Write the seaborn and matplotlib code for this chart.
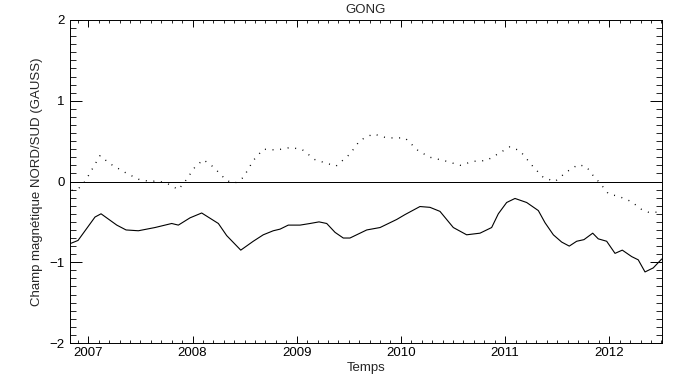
import numpy as np
import pandas as pd
import matplotlib
matplotlib.use("Agg")
import matplotlib.pyplot as plt
from matplotlib.ticker import MultipleLocator
import seaborn as sns

# champ solide
t_solid = [2006.824, 2006.901, 2007.064, 2007.122, 2007.273, 2007.362, 2007.480,
           2007.640, 2007.800, 2007.864, 2007.976, 2008.088, 2008.248, 2008.328,
           2008.463, 2008.583, 2008.679, 2008.775, 2008.840, 2008.919, 2009.032,
           2009.128, 2009.214, 2009.288, 2009.368, 2009.447, 2009.511, 2009.672,
           2009.800, 2009.960, 2010.039, 2010.183, 2010.279, 2010.375, 2010.503,
           2010.631, 2010.759, 2010.871, 2010.935, 2011.015, 2011.095, 2011.207,
           2011.319, 2011.383, 2011.463, 2011.543, 2011.616, 2011.687, 2011.757,
           2011.841, 2011.894, 2011.975, 2012.055, 2012.125, 2012.215, 2012.278,
           2012.343, 2012.422, 2012.503]
b_solid = [-0.77, -0.73, -0.44, -0.40, -0.54, -0.60, -0.61,
           -0.57, -0.52, -0.54, -0.45, -0.39, -0.52, -0.67,
           -0.85, -0.74, -0.66, -0.61, -0.59, -0.54, -0.54,
           -0.52, -0.50, -0.52, -0.63, -0.70, -0.70, -0.60,
           -0.57, -0.47, -0.41, -0.31, -0.32, -0.37, -0.57,
           -0.66, -0.64, -0.57, -0.40, -0.26, -0.21, -0.26,
           -0.36, -0.51, -0.66, -0.75, -0.80, -0.74, -0.72,
           -0.64, -0.71, -0.74, -0.89, -0.85, -0.93, -0.97,
           -1.12, -1.07, -0.96]

# champ pointillé
t_dot = [2006.841, 2006.904, 2006.968, 2007.112, 2007.208, 2007.369, 2007.496,
         2007.608, 2007.656, 2007.752, 2007.864, 2007.928, 2008.024, 2008.104,
         2008.200, 2008.328, 2008.408, 2008.488, 2008.583, 2008.679, 2008.808,
         2008.935, 2009.048, 2009.176, 2009.377, 2009.511, 2009.607, 2009.735,
         2009.864, 2010.039, 2010.167, 2010.279, 2010.440, 2010.568, 2010.695,
         2010.823, 2011.047, 2011.143, 2011.271, 2011.367, 2011.479, 2011.591,
         2011.703, 2011.783, 2011.847, 2011.911, 2011.990, 2012.102, 2012.215,
         2012.300, 2012.375, 2012.503]
b_dot = [-0.11, -0.09, 0.00, 0.32, 0.22, 0.10, 0.02,
         0.00, 0.01, -0.02, -0.10, 0.00, 0.18, 0.27,
         0.18, 0.01, -0.02, 0.05, 0.26, 0.40, 0.39,
         0.42, 0.40, 0.27, 0.19, 0.34, 0.51, 0.59,
         0.54, 0.54, 0.38, 0.30, 0.25, 0.20, 0.25,
         0.26, 0.43, 0.38, 0.18, 0.05, 0.00, 0.12,
         0.21, 0.18, 0.07, -0.02, -0.15, -0.19, -0.25,
         -0.34, -0.38, -0.38]

df_solid = pd.DataFrame({"t": t_solid, "b": b_solid})
df_dot = pd.DataFrame({"t": t_dot, "b": b_dot})

sns.set_style("white")
plt.rcParams['font.family'] = ['Liberation Sans', 'DejaVu Sans']
plt.rcParams['font.size'] = 9.5

LW = 0.7

fig = plt.figure(figsize=(6.83, 3.84), dpi=100)
ax = fig.add_axes([70 / 683, 41 / 384, 592 / 683, 323 / 384])

sns.lineplot(data=df_solid, x="t", y="b", color="black", lw=0.8, ax=ax)
sns.lineplot(data=df_dot, x="t", y="b", color="black", lw=1.0, ax=ax,
             linestyle=(0, (0.7, 4.8)))
ax.axhline(0, color="black", lw=LW, antialiased=False)

ax.set_xlim(2006.824, 2012.506)
ax.set_ylim(-2, 2)
ax.set_xticks([2007, 2008, 2009, 2010, 2011, 2012])
ax.set_xticklabels(["2007", "2008", "2009", "2010", "2011", "2012"])
ax.set_yticks([-2, -1, 0, 1, 2])
ax.xaxis.set_minor_locator(MultipleLocator(0.1))
ax.yaxis.set_minor_locator(MultipleLocator(0.1))

ax.tick_params(axis="x", which="major", direction="in", length=4.7, width=LW,
               top=True, bottom=True, pad=3, labelsize=9.5, colors="black")
ax.tick_params(axis="x", which="minor", direction="in", length=2.4, width=LW,
               top=True, bottom=True)
ax.tick_params(axis="y", which="major", direction="in", length=8.5, width=LW,
               left=True, right=True, pad=4, labelsize=9.5, colors="black")
ax.tick_params(axis="y", which="minor", direction="in", length=4.3, width=LW,
               left=True, right=True)

for s in ax.spines.values():
    s.set_color("black")
    s.set_linewidth(LW)

ax.set_xlabel("Temps", fontsize=9.5, va="center")
ax.xaxis.set_label_coords(0.5, -0.077)
ax.set_ylabel("Champ magnétique NORD/SUD (GAUSS)", fontsize=9.5, va="center")
ax.yaxis.set_label_coords(-0.056, 0.5)
ax.set_title("GONG", fontsize=9.5, y=1.031, pad=0, va="center")

fig.savefig("out.png", dpi=100)
